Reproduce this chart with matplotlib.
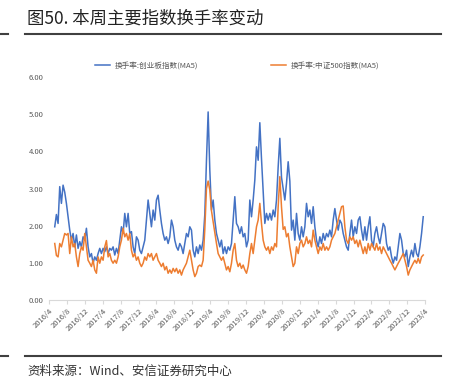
import matplotlib
matplotlib.use("Agg")
import matplotlib.pyplot as plt
import matplotlib.dates as mdates
import numpy as np
import pandas as pd

plt.rcParams['font.family'] = ['Noto Sans CJK SC', 'DejaVu Sans']

title = "图50. 本周主要指数换手率变动"
source = "资料来源：Wind、安信证券研究中心"
series_names = ["换手率:创业板指数(MA5)", "换手率:中证500指数(MA5)"]

start_date = "2016-05-10"
end_date = "2023-03-20"

chinext = [
    1.97, 2.30, 2.06, 3.05, 2.60, 3.09, 2.90, 2.60, 2.24, 1.88, 1.61, 1.79, 1.43, 1.75, 1.39, 1.57,
    1.43, 1.70, 1.61, 1.93, 1.43, 1.16, 1.25, 0.99, 1.16, 1.07, 1.25, 1.39, 1.25, 1.39, 1.30, 1.43,
    1.25, 1.39, 1.34, 1.43, 1.21, 1.39, 1.25, 1.61, 1.97, 1.79, 2.33, 1.97, 2.33, 1.79, 1.84, 1.43,
    1.25, 1.70, 1.61, 1.34, 1.25, 1.43, 1.61, 2.15, 2.69, 2.33, 1.97, 2.42, 2.15, 2.69, 2.82, 2.42,
    2.06, 1.79, 1.61, 1.70, 1.52, 1.70, 2.15, 1.97, 1.61, 1.43, 1.34, 1.52, 1.43, 1.25, 1.52, 1.79,
    1.70, 1.97, 1.88, 1.34, 1.16, 1.43, 1.25, 1.48, 1.34, 1.61, 2.30, 3.76, 5.06, 3.50, 2.42, 2.69,
    2.15, 1.79, 1.61, 1.43, 1.61, 1.25, 1.43, 1.25, 1.43, 1.34, 1.52, 2.15, 2.78,
    2.06, 1.97, 1.79, 1.97, 1.70, 1.79, 1.43, 1.61, 2.69, 2.24, 2.69, 3.23, 4.12, 3.76, 4.77, 3.80,
    2.95, 2.06, 2.33, 2.15, 2.33, 2.15, 2.42, 2.24, 2.69, 3.58, 4.35, 3.30, 3.00, 2.69, 3.14, 3.72,
    3.20, 1.88, 2.15, 1.61, 2.33, 1.79, 1.61, 1.97, 1.70, 1.97, 2.60, 2.24, 2.42, 2.06, 2.51, 1.97,
    1.61, 1.43, 1.70, 1.52, 1.79, 1.61, 1.79, 1.70, 1.88, 1.70, 2.15, 2.46, 2.15, 1.88, 2.15, 2.06,
    1.79, 1.61, 1.43, 1.34, 1.79, 2.15, 1.70, 1.97, 1.79, 2.15, 2.24, 1.88, 1.61, 1.97, 1.61, 1.97,
    2.24, 1.61, 1.43, 1.79, 1.97, 1.70, 1.52, 1.79, 2.06, 1.97, 1.52, 1.34, 1.43, 1.16, 0.99, 1.16,
    1.07, 1.43, 1.79, 1.61, 1.25, 1.16, 1.34, 0.90, 1.16, 1.34, 1.16, 1.52, 1.25, 1.16, 1.43, 1.79,
    2.24,
]

csi500 = [
    1.52, 1.20, 1.16, 1.52, 1.43, 1.61, 1.79, 1.75, 1.79, 1.25, 1.70, 1.43, 1.52, 1.16, 0.90, 1.25,
    1.43, 1.34, 1.79, 1.43, 1.07, 0.99, 0.90, 1.07, 0.81, 0.72, 1.16, 0.99, 1.16, 1.07, 1.43, 1.60,
    1.16, 1.25, 1.07, 0.99, 1.07, 0.99, 1.16, 1.43, 1.61, 1.93, 1.70, 1.79, 1.61, 1.79, 1.34, 1.16,
    1.25, 1.07, 1.16, 0.99, 0.90, 0.99, 1.16, 1.07, 1.25, 1.16, 1.25, 1.07, 1.16, 1.25, 1.07, 0.99,
    0.90, 0.99, 0.81, 0.90, 0.72, 0.81, 0.72, 0.85, 0.76, 0.85, 0.72, 0.81, 0.67, 0.81, 0.90, 0.99,
    1.16, 1.34, 1.07, 0.81, 0.63, 0.72, 0.90, 0.94, 0.90, 1.07, 1.90, 3.00, 3.20, 2.96, 2.40, 2.10,
    1.79, 1.52, 1.25, 1.16, 1.07, 1.16, 0.99, 0.81, 0.90, 0.76, 0.99, 1.34, 1.52,
    1.07, 0.90, 0.99, 0.85, 0.94, 0.81, 0.72, 0.90, 1.25, 1.52, 1.25, 1.61, 1.97, 2.15, 2.60, 2.06,
    1.61, 1.43, 1.34, 1.43, 1.25, 1.43, 1.34, 1.52, 1.43, 2.51, 3.32, 2.50, 1.90, 1.97, 1.70, 1.79,
    1.43, 1.16, 0.90, 0.99, 1.43, 1.25, 1.52, 1.61, 1.43, 1.52, 1.70, 1.52, 1.61, 1.43, 1.88, 1.61,
    1.43, 1.25, 1.43, 1.34, 1.52, 1.34, 1.43, 1.34, 1.43, 1.61, 1.70, 1.79, 1.97, 2.15, 2.33, 2.51,
    2.53, 1.97, 1.61, 1.52, 1.70, 1.61, 1.70, 1.52, 1.61, 1.43, 1.61, 1.43, 1.25, 1.43, 1.25, 1.52,
    1.34, 1.52, 1.43, 1.34, 1.52, 1.34, 1.43, 1.25, 1.43, 1.34, 1.25, 1.16, 1.07, 0.99, 0.90, 0.81,
    0.90, 0.99, 1.07, 1.16, 1.25, 1.07, 0.90, 0.67, 0.81, 0.90, 0.99, 1.07, 0.99, 1.12, 0.99, 1.16,
    1.21,
]

tick_dates = pd.date_range("2016-04-01", "2023-04-01", freq="4MS")
tick_labels = [f"{d.year}/{d.month}" for d in tick_dates]

dates = pd.date_range(start_date, end_date, periods=len(chinext))

fig = plt.figure(figsize=(4.53, 3.86), dpi=100)
ax = fig.add_axes([49/453, 1 - 300/386, (425-49)/453, (300-77)/386])

blue = "#4472C4"
orange = "#ED7D31"
ax.plot(dates, chinext, color=blue, lw=1.1, label=series_names[0])
ax.plot(dates, csi500, color=orange, lw=1.1, label=series_names[1])

ax.set_ylim(0, 6)
ax.set_xlim(tick_dates[0], tick_dates[-1])
ax.set_yticks(np.arange(0, 7, 1))
ax.set_yticklabels([f"{v:.2f}" for v in range(7)])
ax.set_xticks(tick_dates)
ax.set_xticklabels(tick_labels, rotation=45, ha="right", rotation_mode="anchor")
for s in ["top", "right", "left"]:
    ax.spines[s].set_visible(False)
ax.spines["bottom"].set_color("#d9d9d9")
ax.spines["bottom"].set_linewidth(0.8)
ax.tick_params(axis="y", length=0, labelsize=5.5, labelcolor="#595959", pad=4)
ax.tick_params(axis="x", length=3, color="#d9d9d9", labelsize=5.5, labelcolor="#595959", pad=2)

leg = ax.legend(loc="lower center", bbox_to_anchor=(0.5, 1.0), ncol=2, frameon=False,
                fontsize=5.5, handlelength=2.0, handletextpad=0.6, columnspacing=9.5,
                borderaxespad=0.6)
for t in leg.get_texts():
    t.set_color("#595959")

fig.text(27/453, 1 - 19/386, title, fontsize=12.5, color="#222222", va="center", ha="left")
line_color = "#404040"
fig.add_artist(plt.Line2D([25/453, 441/453], [1 - 34/386, 1 - 34/386], color=line_color, lw=1.5))
fig.add_artist(plt.Line2D([0, 8/453], [1 - 34/386, 1 - 34/386], color=line_color, lw=1.5))
fig.add_artist(plt.Line2D([25/453, 441/453], [1 - 356/386, 1 - 356/386], color=line_color, lw=1.5))
fig.add_artist(plt.Line2D([0, 8/453], [1 - 356/386, 1 - 356/386], color=line_color, lw=1.5))
fig.text(27/453, 1 - 371/386, source, fontsize=9, color="#333333", va="center", ha="left",
         style="italic")

fig.savefig("out.png", dpi=100)
